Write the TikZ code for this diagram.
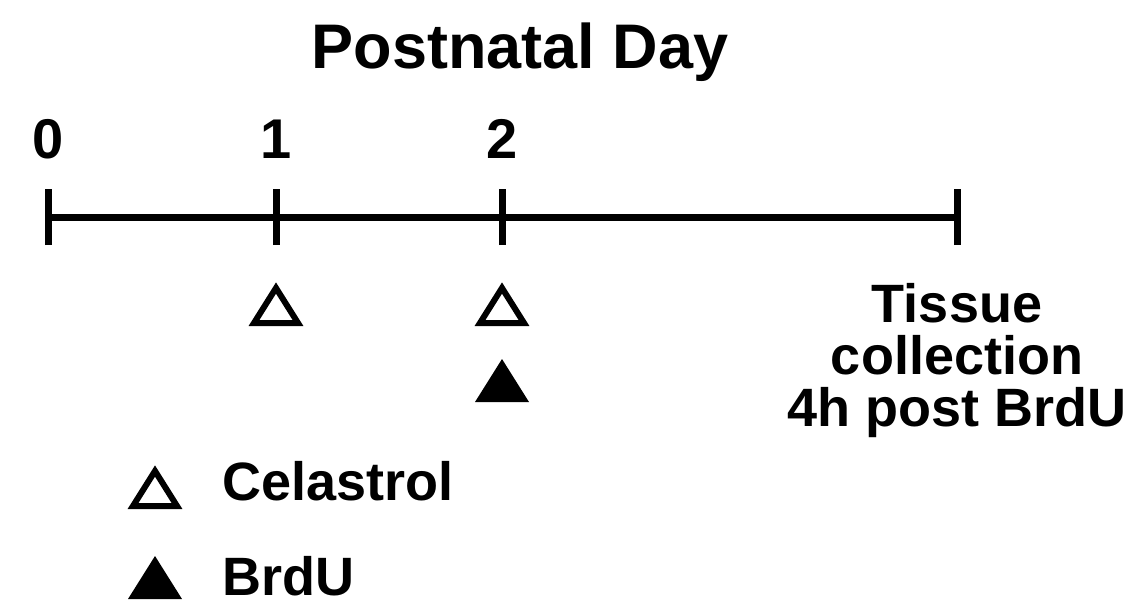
\documentclass[tikz,border=0pt]{standalone}
\usepackage{fontspec}
\setmainfont{Liberation Sans}
\begin{document}
\begin{tikzpicture}[x=1pt,y=-1pt,
  txt/.style={inner sep=0pt,font=\bfseries\fontsize{54}{52}\selectfont},
  axis/.style={line width=7pt},
  opentri/.pic={\draw[line width=6pt,line join=miter] (-22,17)--(0,-18)--(22,17)--cycle;},
  filltri/.pic={\fill (-27,21)--(0,-22)--(27,21)--cycle;}]
\useasboundingbox (0,0) rectangle (1129,606);

% title
\node[txt,font=\bfseries\fontsize{63}{63}\selectfont,anchor=base] (title) at (520,68) {Postnatal Day};

% time axis with ticks
\coordinate (d0) at (48,217);
\coordinate (d1) at (276,217);
\coordinate (d2) at (502,217);
\coordinate (dend) at (957,217);
\draw[axis] (d0) -- (dend);
\foreach \p in {d0,d1,d2,dend}
  \draw[axis] ([yshift=-28pt]\p) -- ([yshift=28pt]\p);

% day labels
\node[txt,font=\bfseries\fontsize{56}{56}\selectfont,anchor=base] (l0) at (48,158) {0};
\node[txt,font=\bfseries\fontsize{56}{56}\selectfont,anchor=base] (l1) at (276,158) {1};
\node[txt,font=\bfseries\fontsize{56}{56}\selectfont,anchor=base] (l2) at (502,158) {2};

% injections
\pic at (276,306) {opentri};
\pic at (502,306) {opentri};
\pic at (502,381) {filltri};

% endpoint
\node[txt,align=center,anchor=north] (tissue) at (957,283) {Tissue\\collection\\4h post BrdU};

% legend
\pic at (155,489) {opentri};
\node[txt,anchor=base west] (cel) at (222,500) {Celastrol};
\pic at (155,578) {filltri};
\node[txt,anchor=base west] (brdu) at (222,595) {BrdU};
\end{tikzpicture}
\end{document}
